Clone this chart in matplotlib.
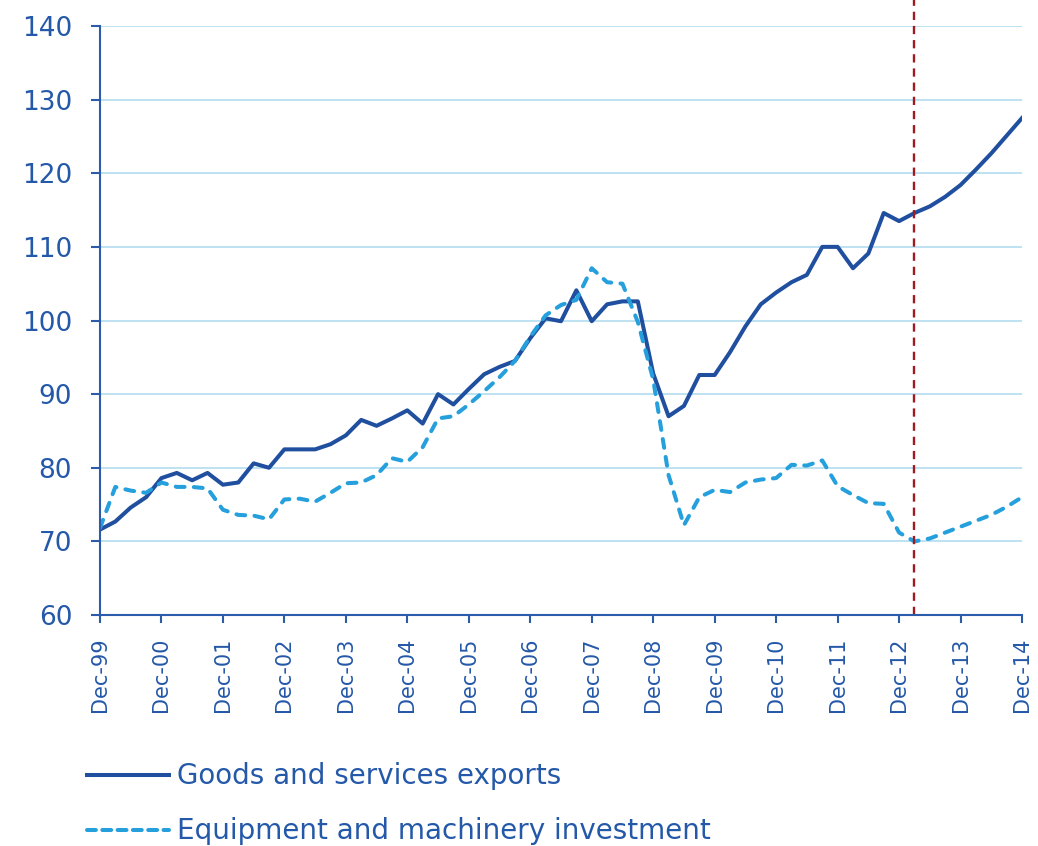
import matplotlib
matplotlib.use('Agg')
import matplotlib.pyplot as plt
from matplotlib.lines import Line2D

# quarterly series, Dec-99 .. Dec-14
exports = [71.6, 72.7, 74.6, 76.0, 78.6, 79.3, 78.3, 79.3, 77.7, 78.0,
           80.6, 80.0, 82.5, 82.5, 82.5, 83.2, 84.4, 86.5, 85.7, 86.7,
           87.8, 86.0, 90.0, 88.6, 90.7, 92.7, 93.7, 94.5, 97.6, 100.3,
           99.9, 104.1, 99.9, 102.2, 102.6, 102.6, 92.8, 87.0, 88.4, 92.6,
           92.6, 95.7, 99.2, 102.2, 103.8, 105.2, 106.2, 110.0, 110.0, 107.1,
           109.1, 114.6, 113.5, 114.6, 115.5, 116.8, 118.4, 120.5, 122.7, 125.1,
           127.5]
investment = [71.8, 77.4, 76.9, 76.6, 78.0, 77.4, 77.4, 77.2, 74.3, 73.6,
              73.5, 73.0, 75.7, 75.8, 75.4, 76.6, 77.9, 78.0, 79.0, 81.3,
              80.8, 82.8, 86.7, 87.0, 88.6, 90.4, 92.3, 94.5, 97.8, 100.7,
              102.1, 102.8, 107.1, 105.2, 105.0, 99.8, 92.0, 79.0, 72.2, 76.0,
              77.0, 76.7, 78.0, 78.4, 78.6, 80.4, 80.3, 81.0, 77.5, 76.3,
              75.2, 75.1, 71.2, 70.0, 70.4, 71.2, 72.0, 72.8, 73.6, 74.7,
              76.0]
tick_labels = ['Dec-99', 'Dec-00', 'Dec-01', 'Dec-02', 'Dec-03', 'Dec-04',
               'Dec-05', 'Dec-06', 'Dec-07', 'Dec-08', 'Dec-09', 'Dec-10',
               'Dec-11', 'Dec-12', 'Dec-13', 'Dec-14']
names = ['Goods and services exports', 'Equipment and machinery investment']
forecast_start = 53  # Mar-13

dark = '#1f4f9e'
light = '#25a0dc'
grid = '#b3ddf0'
txt = '#2458a8'

x = list(range(len(exports)))

fig = plt.figure(figsize=(10.38, 8.46), dpi=100)
ax = fig.add_axes([0.0963, 0.2730, 0.8883, 0.6963])

ax.plot(x, exports, color=dark, lw=2.9)
ax.plot(x, investment, color=light, lw=2.9, dashes=(2.2, 2.3),
        dash_capstyle='round')
ax.axvline(forecast_start, ymin=0, ymax=1.045, color='#9e1b22', lw=1.7,
           dashes=(3.5, 2.5), clip_on=False)

ax.set_xlim(0, len(exports) - 1)
ax.set_ylim(60, 140)
ax.set_yticks(range(60, 141, 10))
ax.set_xticks(range(0, len(exports), 4))
ax.set_xticklabels(tick_labels, rotation=90)
ax.yaxis.grid(True, color=grid, lw=1.2)
ax.set_axisbelow(True)

for s in ['top', 'right']:
    ax.spines[s].set_visible(False)
for s in ['left', 'bottom']:
    ax.spines[s].set_color('#2a5cab')
    ax.spines[s].set_linewidth(1.5)
ax.tick_params(axis='y', colors='#2a5cab', labelcolor=txt, labelsize=19,
               length=6.5, width=1.5, pad=13.5)
ax.tick_params(axis='x', colors='#2a5cab', labelcolor=txt, labelsize=15,
               length=6, width=1.5, pad=10)

# legend below the axes
fig.add_artist(Line2D([0.084, 0.163], [1 - 775 / 846] * 2, color=dark, lw=2.9))
fig.add_artist(Line2D([0.084, 0.163], [1 - 830 / 846] * 2, color=light, lw=2.9,
                      dashes=(2.2, 1.6), dash_capstyle='round'))
fig.text(0.171, 1 - 776 / 846, names[0], color=txt, fontsize=20, va='center')
fig.text(0.171, 1 - 831 / 846, names[1], color=txt, fontsize=20, va='center')

fig.savefig('out.png', dpi=100)
